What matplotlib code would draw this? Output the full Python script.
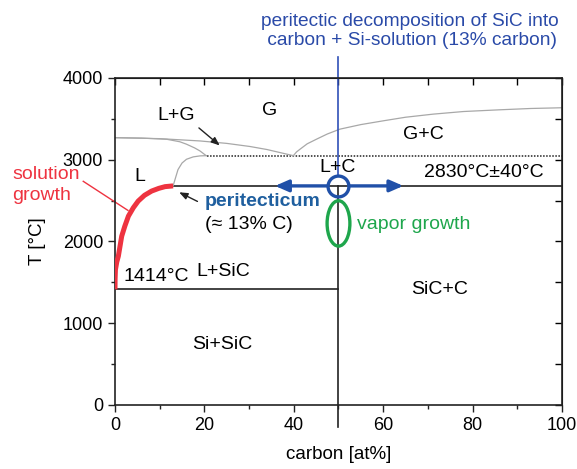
import matplotlib
matplotlib.use("Agg")
import matplotlib.pyplot as plt
from matplotlib.patches import Ellipse

plt.rcParams['font.family'] = ['Liberation Sans', 'DejaVu Sans']

# --- data ---
T_SI_MELT = 1414          # Si melting line
T_PERI = 2680             # peritectic line
T_DOTTED = 3050           # dotted line
X_SIC = 50                # SiC composition
X_PERI = 13               # peritectic liquid composition

liq_x = [0, 0.02, 0.1, 0.4, 0.75, 1.5, 2.2, 3.0, 4.1, 5.2, 6.6, 8.2, 9.8, 11.2, 13]
liq_t = [1414, 1540, 1656, 1750, 1820, 2065, 2188, 2310, 2413, 2495, 2565, 2617, 2650, 2671, 2680]

up_x = [13, 13.6, 14.1, 15.0, 16.0, 17.5, 19.0, 20.5]
up_t = [2680, 2790, 2880, 2960, 3006, 3035, 3047, 3050]

lg_low_x = [0, 6, 11.6, 14.5, 16.0, 17.8, 19.0, 20.4]
lg_low_t = [3270, 3265, 3250, 3220, 3190, 3145, 3108, 3050]

lg_up_x = [0, 10, 19.0, 25, 30.2, 34, 36.9, 39.9]
lg_up_t = [3270, 3258, 3230, 3200, 3162, 3125, 3088, 3050]

gc_x = [39.9, 40.6, 41.4, 43, 45.1, 47.5, 50.3, 55, 60, 65, 71.2, 78, 86.1, 93, 100]
gc_t = [3050, 3095, 3129, 3195, 3252, 3315, 3374, 3430, 3476, 3520, 3558, 3590, 3611, 3627, 3636]

arrow_left = 35.8
arrow_right = 64.5
vapor_t = 2221
blue_top = 4260
sic_bottom = -270

fig = plt.figure(figsize=(5.77, 4.69), dpi=100)
ax = fig.add_axes([0.1993, 0.1365, 0.7747, 0.6972])
ax.set_xlim(0, 100)
ax.set_ylim(0, 4000)

# phase lines
ax.plot([0, X_SIC], [T_SI_MELT, T_SI_MELT], color='#222222', lw=1.2)
ax.plot([X_PERI, 100], [T_PERI, T_PERI], color='#222222', lw=1.2)
ax.plot([X_SIC, X_SIC], [sic_bottom, T_PERI], color='#222222', lw=1.2, clip_on=False)
ax.plot([20.5, 100], [T_DOTTED, T_DOTTED], color='#222222', lw=1.1, ls=(0, (1, 1)))

gray = '#a8a8a8'
ax.plot(up_x, up_t, color=gray, lw=0.9)
ax.plot(lg_low_x, lg_low_t, color=gray, lw=0.9)
ax.plot(lg_up_x, lg_up_t, color=gray, lw=0.9)
ax.plot(gc_x, gc_t, color=gray, lw=0.9)

# solution growth liquidus
red = '#ee3340'
ax.plot(liq_x, liq_t, color=red, lw=3.6, solid_capstyle='butt', solid_joinstyle='round', zorder=4)
ax.plot([-7.1, 2.9], [2736, 2380], color=red, lw=1.0, clip_on=False)

# blue annotations
blue = '#2050a8'
ax.plot([X_SIC, X_SIC], [T_PERI + 125, blue_top], color='#3050b8', lw=1.2, clip_on=False)
ax.annotate('', xy=(arrow_left, T_PERI), xytext=(X_SIC - 2.4, T_PERI),
            arrowprops=dict(arrowstyle='-|>,head_length=0.8,head_width=0.35',
                            color=blue, lw=2.4, shrinkA=0, shrinkB=0))
ax.annotate('', xy=(arrow_right, T_PERI), xytext=(X_SIC + 2.4, T_PERI),
            arrowprops=dict(arrowstyle='-|>,head_length=0.8,head_width=0.35',
                            color=blue, lw=2.4, shrinkA=0, shrinkB=0))
ax.plot([X_SIC], [T_PERI], marker='o', ms=15, mfc='none', mec=blue, mew=2.4, zorder=5)

ax.add_patch(Ellipse((X_SIC, vapor_t), 5.1, 555, fill=False, ec='#1ea64c', lw=2.4, zorder=5))

# black arrows
ax.annotate('', xy=(23.9, 3153), xytext=(18.3, 3411),
            arrowprops=dict(arrowstyle='-|>,head_length=0.5,head_width=0.2', color='#222222', lw=1.0))
ax.annotate('', xy=(13.8, 2617), xytext=(19.0, 2475),
            arrowprops=dict(arrowstyle='-|>,head_length=0.5,head_width=0.2', color='#222222', lw=1.0))

# region labels
fs = 14
ax.text(34.6, 3600, 'G', fontsize=fs, ha='center', va='center')
ax.text(13.8, 3540, 'L+G', fontsize=fs, ha='center', va='center')
ax.text(68.9, 3313, 'G+C', fontsize=fs, ha='center', va='center')
ax.text(5.6, 2800, 'L', fontsize=fs, ha='center', va='center')
ax.text(49.7, 2904, 'L+C', fontsize=fs, ha='center', va='center')
ax.text(82.6, 2843, '2830°C±40°C', fontsize=fs, ha='center', va='center')
ax.text(20.1, 2494, 'peritecticum', fontsize=fs, ha='left', va='center',
        color='#1f5f9f', fontweight='bold')
ax.text(20.1, 2208, '(≈ 13% C)', fontsize=fs, ha='left', va='center')
ax.text(54.1, 2209, 'vapor growth', fontsize=fs, ha='left', va='center', color='#1ea64c')
ax.text(1.85, 1575, '1414°C', fontsize=fs, ha='left', va='center')
ax.text(18.2, 1636, 'L+SiC', fontsize=fs, ha='left', va='center')
ax.text(72.6, 1411, 'SiC+C', fontsize=fs, ha='center', va='center')
ax.text(23.9, 736, 'Si+SiC', fontsize=fs, ha='center', va='center')
ax.text(-23, 2690, 'solution\ngrowth', fontsize=fs, ha='left', va='center',
        color=red, linespacing=1.35, clip_on=False)

fig.text(410 / 577, 1 - 31 / 469,
         'peritectic decomposition of SiC into\n carbon + Si-solution (13% carbon)',
         fontsize=13.8, ha='center', va='center', color='#2a4aa8', linespacing=1.2)

# axes styling
ax.set_xticks([0, 20, 40, 60, 80, 100])
ax.set_xticks(range(10, 100, 20), minor=True)
ax.set_yticks([0, 1000, 2000, 3000, 4000])
ax.set_yticks(range(500, 4000, 1000), minor=True)
ax.tick_params(which='both', direction='out', labelsize=13, width=1.0, color='#222222')
ax.tick_params(which='major', length=5)
ax.tick_params(which='minor', length=3)
for s in ax.spines.values():
    s.set_linewidth(1.2)
    s.set_color('#222222')

top = ax.secondary_xaxis('top')
top.set_xticks([0, 20, 40, 60, 80, 100])
top.set_xticks(range(10, 100, 20), minor=True)
top.tick_params(which='both', direction='in', labeltop=False, length=5, width=1.0)
right = ax.secondary_yaxis('right')
right.set_yticks([0, 1000, 2000, 3000, 4000])
right.set_yticks(range(500, 4000, 1000), minor=True)
right.tick_params(which='both', direction='in', labelright=False, length=5, width=1.0)

ax.set_xlabel('carbon [at%]', fontsize=13.5, labelpad=9)
ax.set_ylabel('T [°C]', fontsize=13.5, labelpad=12)

fig.savefig('out.png', dpi=100)
